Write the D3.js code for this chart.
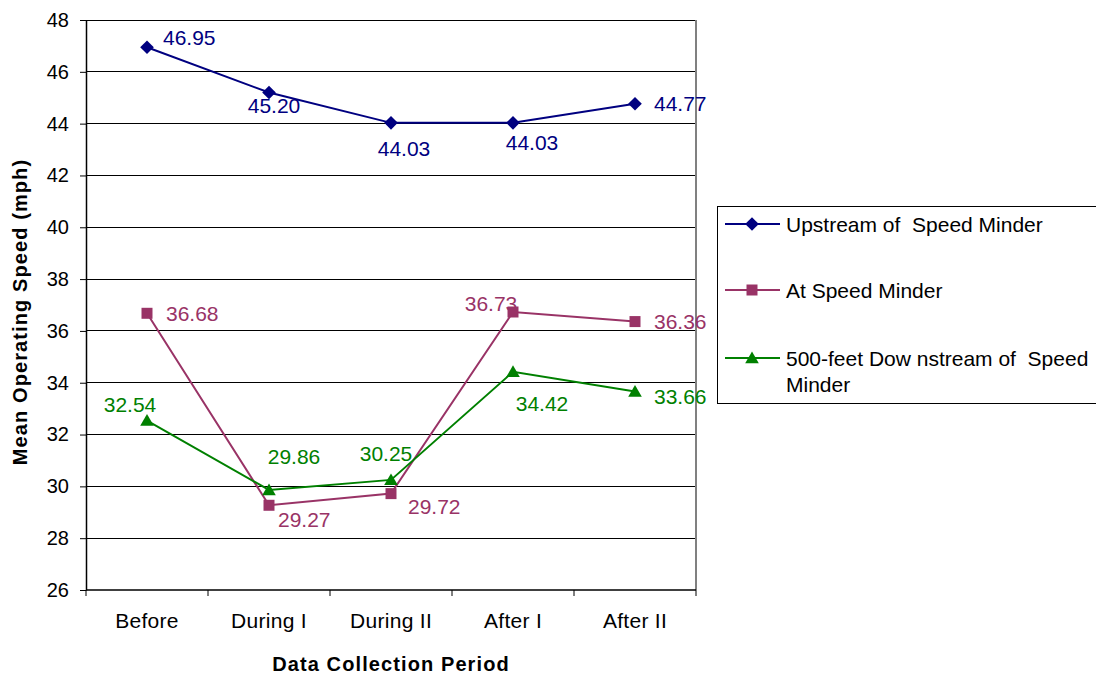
<!DOCTYPE html>
<html>
<head>
<meta charset="utf-8">
<script src="https://cdn.jsdelivr.net/npm/d3@7/dist/d3.min.js"></script>
<style>
  html, body { margin: 0; padding: 0; background: #fff; }
  svg { display: block; font-family: "Liberation Sans", Arial, sans-serif; }
</style>
</head>
<body>
<svg id="chart" width="1096" height="675"></svg>
<script>
// Mean operating speed by data collection period
const periods = ["Before", "During I", "During II", "After I", "After II"];
const upstream = [46.95, 45.20, 44.03, 44.03, 44.77];
const atMinder = [36.68, 29.27, 29.72, 36.73, 36.36];
const downstream = [32.54, 29.86, 30.25, 34.42, 33.66];
const yTicks = [26, 28, 30, 32, 34, 36, 38, 40, 42, 44, 46, 48];
const seriesNames = ["Upstream of  Speed Minder", "At Speed Minder", "500-feet Dow nstream of  Speed", "Minder"];

// value-label placement per point: [anchor, dx, dy]
const upLabelPos = [["start", 16, -10], ["middle", 5, 13], ["middle", 13, 26], ["middle", 19, 20], ["start", 19, 0]];
const atLabelPos = [["start", 19, 0], ["start", 9, 14], ["start", 17, 13], ["middle", -22, -8], ["start", 19, 0]];
const dnLabelPos = [["middle", -17, -16], ["middle", 25, -33], ["middle", -5, -26], ["middle", 29, 32], ["start", 19, 5]];

const series = [
  { values: upstream, color: "#000080", shape: "diamond", labels: upLabelPos },
  { values: atMinder, color: "#993366", shape: "square", labels: atLabelPos },
  { values: downstream, color: "#008000", shape: "triangle", labels: dnLabelPos }
];

const svg = d3.select("#chart");
const plot = { left: 86, right: 696, top: 20, bottom: 590 };

const x = d3.scaleBand().domain(periods).range([plot.left, plot.right]).padding(0);
const y = d3.scaleLinear().domain([26, 48]).range([plot.bottom, plot.top]);
const cx = d => x(d) + x.bandwidth() / 2;

// horizontal gridlines
svg.append("g").selectAll("line")
  .data(yTicks.filter(t => t > 26))
  .join("line")
  .attr("x1", plot.left).attr("x2", plot.right)
  .attr("y1", d => y(d)).attr("y2", d => y(d))
  .attr("stroke", "#000").attr("stroke-width", 1)
  .attr("shape-rendering", "crispEdges");

// right frame edge
svg.append("line")
  .attr("x1", plot.right).attr("x2", plot.right)
  .attr("y1", plot.top).attr("y2", plot.bottom)
  .attr("stroke", "#808080").attr("stroke-width", 2);

// y axis
const yAxis = svg.append("g")
  .attr("transform", `translate(${plot.left},0)`)
  .call(d3.axisLeft(y).tickValues(yTicks).tickSize(6).tickSizeOuter(0).tickPadding(11).tickFormat(d3.format("d")));
yAxis.select(".domain").attr("stroke", "#000").attr("stroke-width", 1.5);
yAxis.selectAll(".tick line").attr("stroke", "#000");
yAxis.selectAll(".tick text")
  .attr("font-size", 20).attr("fill", "#000")
  .attr("font-family", "'Liberation Sans', Arial, sans-serif");

// x axis: category labels at band centres, tick marks at band edges
const xAxis = svg.append("g")
  .attr("transform", `translate(0,${plot.bottom})`)
  .call(d3.axisBottom(x).tickSize(0).tickPadding(23));
xAxis.select(".domain").remove();
xAxis.selectAll(".tick text")
  .attr("font-size", 21).attr("fill", "#000")
  .attr("letter-spacing", "0.3px")
  .attr("font-family", "'Liberation Sans', Arial, sans-serif");

svg.append("line")
  .attr("x1", plot.left).attr("x2", plot.right)
  .attr("y1", plot.bottom).attr("y2", plot.bottom)
  .attr("stroke", "#000").attr("stroke-width", 1.5);

const edges = periods.map(p => x(p)).concat([x(periods[periods.length - 1]) + x.bandwidth()]);
svg.append("g").selectAll("line")
  .data(edges)
  .join("line")
  .attr("x1", d => d).attr("x2", d => d)
  .attr("y1", plot.bottom).attr("y2", plot.bottom + 6)
  .attr("stroke", "#000").attr("stroke-width", 1);

// axis titles
svg.append("text")
  .attr("x", (plot.left + plot.right) / 2).attr("y", 671)
  .attr("text-anchor", "middle")
  .attr("font-size", 20).attr("font-weight", "bold")
  .attr("letter-spacing", "1.1px")
  .text("Data Collection Period");

svg.append("text")
  .attr("transform", "translate(27,312) rotate(-90)")
  .attr("text-anchor", "middle")
  .attr("font-size", 20).attr("font-weight", "bold")
  .attr("letter-spacing", "1.1px")
  .text("Mean Operating Speed (mph)");

// marker shapes
function marker(shape) {
  if (shape === "diamond") return "M0,-6.8L6.8,0L0,6.8L-6.8,0Z";
  if (shape === "square") return d3.symbol(d3.symbolSquare, 121)();
  return "M0,-6.5L6.8,5.2L-6.8,5.2Z";
}

const line = d3.line().x((d, i) => cx(periods[i])).y(d => y(d));

series.forEach(s => {
  const g = svg.append("g");
  g.append("path")
    .attr("d", line(s.values))
    .attr("fill", "none")
    .attr("stroke", s.color)
    .attr("stroke-width", 2);
  g.selectAll("path.mk")
    .data(s.values)
    .join("path")
    .attr("class", "mk")
    .attr("transform", (d, i) => `translate(${cx(periods[i])},${y(d)})`)
    .attr("d", marker(s.shape))
    .attr("fill", s.color);
  g.selectAll("text")
    .data(s.values)
    .join("text")
    .attr("x", (d, i) => cx(periods[i]) + s.labels[i][1])
    .attr("y", (d, i) => y(d) + s.labels[i][2] + 7.5)
    .attr("text-anchor", (d, i) => s.labels[i][0])
    .attr("font-size", 21)
    .attr("fill", s.color)
    .text(d => d.toFixed(2));
});

// legend
const lg = svg.append("g");
lg.append("rect")
  .attr("x", 717.5).attr("y", 206.5).attr("width", 400).attr("height", 197)
  .attr("fill", "#fff").attr("stroke", "#000").attr("stroke-width", 1);

const legendRows = [
  { s: series[0], y: 224, lines: [seriesNames[0]] },
  { s: series[1], y: 290, lines: [seriesNames[1]] },
  { s: series[2], y: 358, lines: [seriesNames[2], seriesNames[3]] }
];
legendRows.forEach(r => {
  lg.append("line")
    .attr("x1", 725).attr("x2", 780)
    .attr("y1", r.y).attr("y2", r.y)
    .attr("stroke", r.s.color).attr("stroke-width", 2);
  lg.append("path")
    .attr("transform", `translate(752,${r.y})`)
    .attr("d", marker(r.s.shape))
    .attr("fill", r.s.color);
  r.lines.forEach((t, k) => {
    lg.append("text")
      .attr("x", 786).attr("y", r.y + 8 + k * 26)
      .attr("font-size", 21).attr("fill", "#000")
      .attr("xml:space", "preserve")
      .style("white-space", "pre")
      .text(t);
  });
});
</script>
</body>
</html>
